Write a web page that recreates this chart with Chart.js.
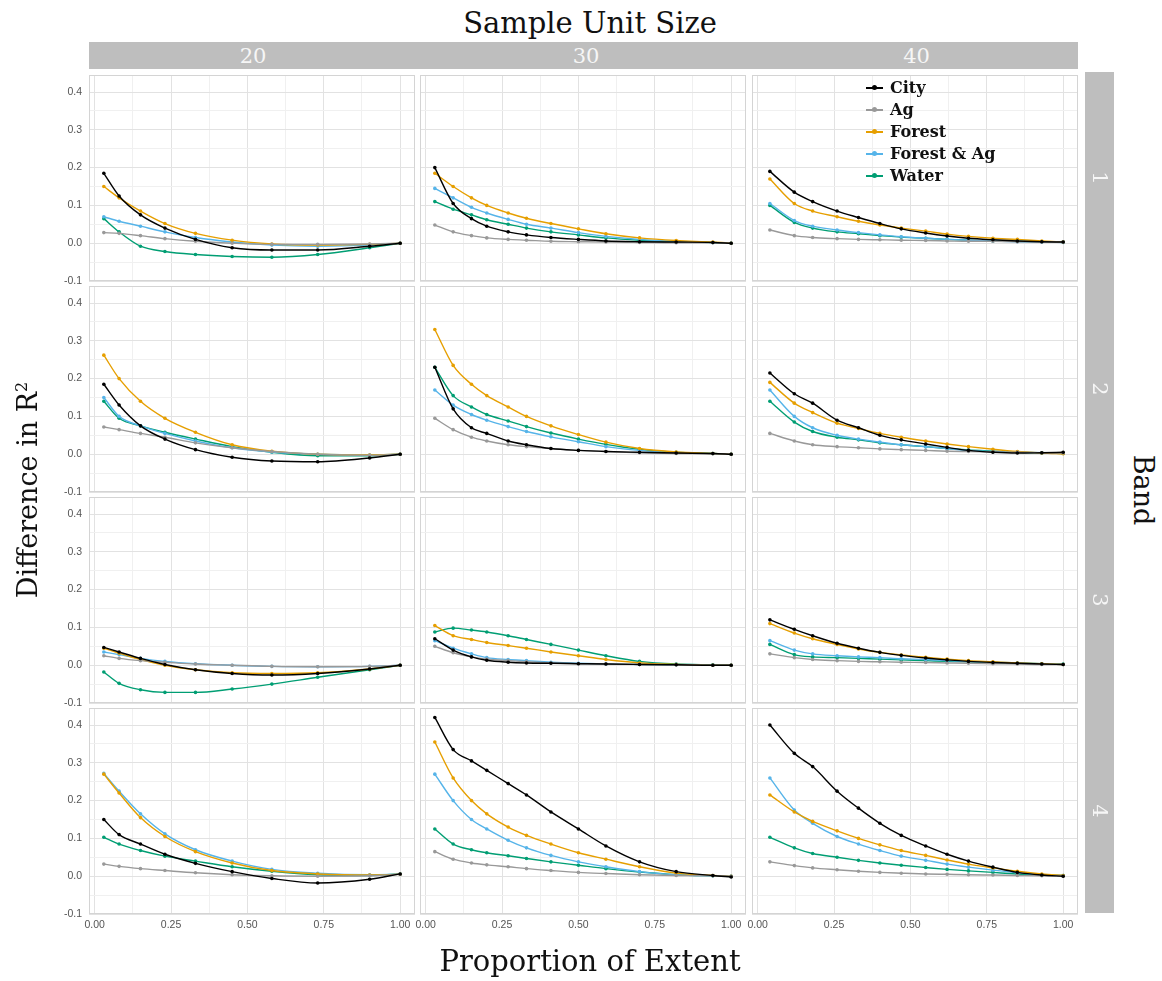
<!DOCTYPE html>
<html>
<head>
<meta charset="utf-8">
<script src="https://cdn.jsdelivr.net/npm/chart.js@4.4.0/dist/chart.umd.min.js"></script>
<style>
    body { margin: 0; background: #fff; width: 1162px; height: 981px; position: relative; overflow: hidden; font-family: "DejaVu Serif", serif; }
    .abs { position: absolute; }
    .strip { background: #bebebe; color: #f6f6f6; font-size: 21px; display: flex; align-items: center; justify-content: center; }
    .frame { border: 1px solid #d4d4d4; box-sizing: border-box; pointer-events: none; }
    .title { font-size: 27px; color: #111; white-space: nowrap; }
    .leg { font-weight: bold; font-size: 16px; color: #111; white-space: nowrap; line-height: 22px; }
</style>
</head>
<body>
<script>
// series and facets
const SERIES = ['City', 'Ag', 'Forest', 'Forest & Ag', 'Water'];
const COLORS = ['#000000', '#999999', '#E69F00', '#56B4E9', '#009E73'];
const SIZES = ['20', '30', '40'];
const BANDS = ['1', '2', '3', '4'];

// tick labels / grid
const X_TICKS = [0, 0.125, 0.25, 0.375, 0.5, 0.625, 0.75, 0.875, 1];
const Y_TICKS = [-0.1, -0.05, 0, 0.05, 0.1, 0.15, 0.2, 0.25, 0.3, 0.35, 0.4];

// proportion of extent, per sample unit size
const PROP_20 = [0.03, 0.08, 0.15, 0.23, 0.33, 0.45, 0.58, 0.73, 0.90, 1.00];
const PROP_30 = [0.03, 0.09, 0.15, 0.20, 0.27, 0.33, 0.41, 0.50, 0.59, 0.70, 0.82, 0.94, 1.00];
const PROP_40 = [0.04, 0.12, 0.18, 0.26, 0.33, 0.40, 0.47, 0.55, 0.62, 0.69, 0.77, 0.85, 0.93, 1.00];

// difference in R2, rows: City, Ag, Forest, Forest & Ag, Water
const B1_S20 = [
    [0.185, 0.125, 0.075, 0.040, 0.010, -0.012, -0.018, -0.018, -0.008, 0.000],
    [0.028, 0.026, 0.020, 0.012, 0.005, 0.000, -0.003, -0.003, -0.002, 0.000],
    [0.150, 0.120, 0.085, 0.052, 0.026, 0.008, -0.002, -0.005, -0.003, 0.000],
    [0.070, 0.058, 0.045, 0.030, 0.015, 0.003, -0.005, -0.008, -0.005, 0.000],
    [0.065, 0.030, -0.008, -0.022, -0.030, -0.035, -0.037, -0.030, -0.012, 0.000],
];
const B1_S30 = [
    [0.200, 0.105, 0.065, 0.045, 0.030, 0.022, 0.015, 0.010, 0.006, 0.004, 0.003, 0.002, 0.000],
    [0.048, 0.030, 0.020, 0.014, 0.010, 0.008, 0.005, 0.004, 0.003, 0.002, 0.001, 0.001, 0.000],
    [0.185, 0.150, 0.120, 0.100, 0.080, 0.066, 0.052, 0.038, 0.025, 0.014, 0.007, 0.003, 0.000],
    [0.145, 0.120, 0.095, 0.080, 0.063, 0.050, 0.040, 0.028, 0.018, 0.010, 0.005, 0.002, 0.000],
    [0.110, 0.090, 0.075, 0.062, 0.050, 0.040, 0.030, 0.022, 0.014, 0.008, 0.004, 0.002, 0.000],
];
const B1_S40 = [
    [0.190, 0.135, 0.110, 0.085, 0.068, 0.052, 0.038, 0.027, 0.019, 0.013, 0.009, 0.006, 0.004, 0.003],
    [0.035, 0.020, 0.015, 0.012, 0.010, 0.009, 0.008, 0.007, 0.006, 0.005, 0.005, 0.004, 0.003, 0.003],
    [0.170, 0.105, 0.085, 0.070, 0.058, 0.048, 0.040, 0.032, 0.024, 0.018, 0.013, 0.010, 0.006, 0.003],
    [0.105, 0.060, 0.045, 0.035, 0.028, 0.022, 0.017, 0.013, 0.010, 0.008, 0.006, 0.004, 0.003, 0.002],
    [0.100, 0.055, 0.040, 0.030, 0.025, 0.020, 0.016, 0.013, 0.010, 0.008, 0.006, 0.005, 0.004, 0.003],
];
const B2_S20 = [
    [0.185, 0.130, 0.075, 0.040, 0.012, -0.008, -0.018, -0.020, -0.010, 0.000],
    [0.072, 0.065, 0.055, 0.045, 0.030, 0.017, 0.007, 0.000, -0.003, 0.000],
    [0.262, 0.200, 0.140, 0.095, 0.058, 0.025, 0.008, 0.000, -0.002, 0.000],
    [0.150, 0.100, 0.075, 0.055, 0.035, 0.017, 0.006, 0.000, -0.002, 0.000],
    [0.140, 0.095, 0.075, 0.058, 0.040, 0.020, 0.005, -0.004, -0.004, 0.000],
];
const B2_S30 = [
    [0.230, 0.120, 0.070, 0.055, 0.035, 0.025, 0.015, 0.010, 0.007, 0.005, 0.003, 0.002, 0.000],
    [0.095, 0.065, 0.045, 0.035, 0.025, 0.020, 0.015, 0.010, 0.007, 0.004, 0.002, 0.001, 0.000],
    [0.330, 0.235, 0.185, 0.155, 0.125, 0.100, 0.075, 0.052, 0.032, 0.015, 0.006, 0.002, 0.000],
    [0.170, 0.130, 0.105, 0.090, 0.073, 0.060, 0.046, 0.033, 0.020, 0.010, 0.004, 0.002, 0.000],
    [0.230, 0.155, 0.125, 0.105, 0.088, 0.073, 0.056, 0.040, 0.026, 0.013, 0.005, 0.002, 0.000],
];
const B2_S40 = [
    [0.215, 0.160, 0.135, 0.090, 0.070, 0.050, 0.038, 0.027, 0.018, 0.010, 0.005, 0.003, 0.004, 0.005],
    [0.055, 0.035, 0.025, 0.020, 0.017, 0.014, 0.012, 0.010, 0.008, 0.007, 0.006, 0.005, 0.004, 0.003],
    [0.190, 0.135, 0.110, 0.082, 0.068, 0.055, 0.045, 0.035, 0.027, 0.020, 0.013, 0.007, 0.003, 0.001],
    [0.170, 0.100, 0.070, 0.050, 0.040, 0.032, 0.025, 0.020, 0.015, 0.010, 0.007, 0.005, 0.004, 0.003],
    [0.140, 0.085, 0.060, 0.045, 0.038, 0.030, 0.025, 0.020, 0.015, 0.011, 0.008, 0.005, 0.003, 0.002],
];
const B3_S20 = [
    [0.047, 0.035, 0.018, 0.002, -0.012, -0.022, -0.026, -0.022, -0.010, 0.000],
    [0.025, 0.018, 0.012, 0.008, 0.003, 0.000, -0.003, -0.004, -0.003, 0.000],
    [0.045, 0.032, 0.015, 0.000, -0.012, -0.020, -0.022, -0.020, -0.010, 0.000],
    [0.035, 0.028, 0.018, 0.010, 0.004, 0.000, -0.003, -0.004, -0.003, 0.000],
    [-0.018, -0.048, -0.065, -0.072, -0.072, -0.063, -0.050, -0.032, -0.012, 0.000],
];
const B3_S30 = [
    [0.070, 0.040, 0.022, 0.013, 0.008, 0.006, 0.005, 0.004, 0.003, 0.002, 0.001, 0.000, 0.000],
    [0.050, 0.033, 0.022, 0.016, 0.012, 0.009, 0.006, 0.004, 0.003, 0.002, 0.001, 0.000, 0.000],
    [0.105, 0.078, 0.068, 0.060, 0.052, 0.045, 0.035, 0.025, 0.015, 0.006, 0.002, 0.000, 0.000],
    [0.065, 0.045, 0.030, 0.020, 0.015, 0.012, 0.008, 0.005, 0.003, 0.002, 0.001, 0.000, 0.000],
    [0.088, 0.098, 0.093, 0.088, 0.078, 0.068, 0.055, 0.040, 0.025, 0.010, 0.003, 0.001, 0.000],
];
const B3_S40 = [
    [0.120, 0.095, 0.078, 0.058, 0.045, 0.034, 0.026, 0.019, 0.014, 0.010, 0.007, 0.005, 0.003, 0.002],
    [0.030, 0.020, 0.015, 0.012, 0.010, 0.009, 0.008, 0.007, 0.006, 0.005, 0.004, 0.003, 0.002, 0.002],
    [0.110, 0.085, 0.070, 0.055, 0.043, 0.034, 0.027, 0.021, 0.016, 0.012, 0.009, 0.006, 0.004, 0.002],
    [0.065, 0.040, 0.030, 0.025, 0.022, 0.020, 0.017, 0.015, 0.012, 0.010, 0.008, 0.006, 0.004, 0.002],
    [0.055, 0.028, 0.022, 0.020, 0.018, 0.016, 0.014, 0.012, 0.010, 0.009, 0.007, 0.005, 0.004, 0.003],
];
const B4_S20 = [
    [0.150, 0.110, 0.085, 0.058, 0.034, 0.012, -0.006, -0.018, -0.008, 0.006],
    [0.032, 0.026, 0.020, 0.015, 0.009, 0.004, 0.001, 0.000, 0.001, 0.005],
    [0.270, 0.220, 0.155, 0.105, 0.065, 0.035, 0.015, 0.006, 0.003, 0.005],
    [0.272, 0.225, 0.165, 0.112, 0.070, 0.040, 0.018, 0.008, 0.004, 0.005],
    [0.103, 0.085, 0.068, 0.053, 0.040, 0.025, 0.013, 0.004, 0.002, 0.006],
];
const B4_S30 = [
    [0.420, 0.335, 0.305, 0.280, 0.245, 0.215, 0.170, 0.125, 0.080, 0.038, 0.012, 0.002, -0.002],
    [0.065, 0.045, 0.035, 0.030, 0.025, 0.020, 0.015, 0.010, 0.007, 0.004, 0.002, 0.001, 0.000],
    [0.355, 0.260, 0.200, 0.165, 0.130, 0.108, 0.085, 0.062, 0.045, 0.025, 0.008, 0.002, 0.000],
    [0.270, 0.200, 0.150, 0.125, 0.095, 0.075, 0.055, 0.038, 0.025, 0.012, 0.004, 0.001, 0.000],
    [0.125, 0.085, 0.070, 0.062, 0.054, 0.047, 0.038, 0.029, 0.020, 0.011, 0.004, 0.001, 0.000],
];
const B4_S40 = [
    [0.400, 0.325, 0.290, 0.225, 0.180, 0.140, 0.108, 0.080, 0.058, 0.040, 0.024, 0.010, 0.003, 0.000],
    [0.038, 0.028, 0.022, 0.017, 0.013, 0.010, 0.008, 0.006, 0.005, 0.004, 0.003, 0.002, 0.001, 0.000],
    [0.215, 0.170, 0.145, 0.120, 0.100, 0.083, 0.068, 0.055, 0.043, 0.032, 0.022, 0.013, 0.006, 0.002],
    [0.260, 0.175, 0.140, 0.105, 0.085, 0.068, 0.053, 0.042, 0.032, 0.024, 0.016, 0.009, 0.004, 0.002],
    [0.103, 0.075, 0.060, 0.050, 0.042, 0.035, 0.029, 0.023, 0.018, 0.014, 0.010, 0.006, 0.003, 0.002],
];

const PROPS = [PROP_20, PROP_30, PROP_40];
const PANELS = [
    [B1_S20, B1_S30, B1_S40],
    [B2_S20, B2_S30, B2_S40],
    [B3_S20, B3_S30, B3_S40],
    [B4_S20, B4_S30, B4_S40],
];

// layout
const PANEL_X = [89, 420, 752];
const PANEL_Y = [75, 286, 497, 708];
const PANEL_W = 326;
const PANEL_H = 206;
const X_MIN = -0.0185, X_MAX = 1.0485;
const Y_MIN = -0.1, Y_MAX = 0.445;

function isStep(v, step) {
    const r = v / step;
    return Math.abs(r - Math.round(r)) < 1e-6;
}

function gridColor(ctx) {
    const v = ctx.tick ? ctx.tick.value : null;
    if (v === null) return 'transparent';
    const major = ctx.scale.axis === 'x' ? isStep(v, 0.25) : isStep(v, 0.1);
    const minor = ctx.scale.axis === 'x' ? isStep(v, 0.125) : isStep(v, 0.05);
    if (major) return '#e2e2e2';
    if (minor) return '#f0f0f0';
    return 'transparent';
}

function addDiv(cls, left, top, width, height, html, extra) {
    const d = document.createElement('div');
    d.className = 'abs ' + cls;
    d.style.cssText = `left:${left}px;top:${top}px;width:${width}px;height:${height}px;` + (extra || '');
    d.innerHTML = html;
    document.body.appendChild(d);
    return d;
}

function makePanel(row, col) {
    const m = 14;
    const axL = col === 0 ? 50 : 0;
    const axB = row === 3 ? 24 : 0;
    const w = PANEL_W + axL + 2 * m;
    const h = PANEL_H + axB + 2 * m;
    const cv = document.createElement('canvas');
    cv.width = w;
    cv.height = h;
    cv.style.cssText = `position:absolute;left:${PANEL_X[col] - axL - m}px;top:${PANEL_Y[row] - m}px;width:${w}px;height:${h}px`;
    document.body.appendChild(cv);

    const xs = PROPS[col];
    const vals = PANELS[row][col];
    const tickFont = { family: 'Liberation Sans', size: 10.5 };

    return new Chart(cv.getContext('2d'), {
        type: 'line',
        data: {
            datasets: SERIES.map((name, i) => ({
                label: name,
                data: xs.map((x, j) => ({ x: x, y: vals[i][j] })),
                borderColor: COLORS[i],
                backgroundColor: COLORS[i],
                borderWidth: 1.4,
                pointRadius: 1.8,
                pointBorderWidth: 0,
                cubicInterpolationMode: 'monotone',
                fill: false,
            })),
        },
        options: {
            responsive: false,
            animation: false,
            devicePixelRatio: 1,
            layout: { padding: m, autoPadding: false },
            plugins: {
                legend: { display: false },
                tooltip: { enabled: false },
            },
            scales: {
                x: {
                    type: 'linear',
                    min: X_MIN,
                    max: X_MAX,
                    border: { display: false },
                    grid: { drawTicks: false, color: gridColor, lineWidth: 1 },
                    ticks: {
                        display: row === 3,
                        autoSkip: false,
                        maxRotation: 0,
                        padding: 5,
                        color: '#555',
                        font: tickFont,
                        callback: (v) => isStep(v, 0.25) ? (Math.abs(v) < 1e-9 ? 0 : v).toFixed(2) : '',
                    },
                    afterBuildTicks: (s) => { s.ticks = X_TICKS.map(v => ({ value: v })); },
                    afterFit: (s) => { s.height = axB; s.paddingLeft = 0; s.paddingRight = 0; },
                },
                y: {
                    type: 'linear',
                    min: Y_MIN,
                    max: Y_MAX,
                    border: { display: false },
                    grid: { drawTicks: false, color: gridColor, lineWidth: 1 },
                    ticks: {
                        display: col === 0,
                        padding: 7,
                        color: '#555',
                        font: tickFont,
                        callback: (v) => isStep(v, 0.1) ? (Math.abs(v) < 1e-9 ? 0 : v).toFixed(1) : '',
                    },
                    afterBuildTicks: (s) => { s.ticks = Y_TICKS.map(v => ({ value: v })); },
                    afterFit: (s) => { s.width = axL; s.paddingTop = 0; s.paddingBottom = 0; },
                },
            },
        },
    });
}

// panels and frames
for (let r = 0; r < BANDS.length; r++) {
    for (let c = 0; c < SIZES.length; c++) {
        makePanel(r, c);
        addDiv('frame', PANEL_X[c], PANEL_Y[r], PANEL_W, PANEL_H, '');
    }
}

// strips
SIZES.forEach((s, c) => {
    const left = c === 0 ? PANEL_X[0] : PANEL_X[c] - 3;
    const right = c === SIZES.length - 1 ? PANEL_X[c] + PANEL_W : PANEL_X[c + 1] - 3;
    addDiv('strip', left, 42, right - left, 27, '<span style="position:relative;left:' + (c === 0 ? 0 : 3) + 'px">' + s + '</span>');
});
addDiv('strip', 1085, 72, 29, 841, '');
BANDS.forEach((b, r) => {
    addDiv('', 1085, PANEL_Y[r] + PANEL_H / 2 - 15, 29, 30,
        '<div style="transform:rotate(90deg);color:#f6f6f6;font-size:21px;text-align:center;line-height:30px">' + b + '</div>');
});

// titles
addDiv('title', 340, 6, 500, 36, 'Sample Unit Size', 'text-align:center;font-size:29px;');
addDiv('title', 340, 944, 500, 40, 'Proportion of Extent', 'text-align:center;font-size:29px;');
addDiv('title', -220, 472, 500, 36, 'Difference in R<sup style="font-size:16px">2</sup>', 'text-align:center;transform:rotate(-90deg);');
addDiv('title', 891, 472, 500, 36, 'Band', 'text-align:center;transform:rotate(90deg);');

// legend inside the band 1 / size 40 panel
SERIES.forEach((name, i) => {
    addDiv('leg', 866, 77 + 22 * i, 180, 22,
        '<span style="position:absolute;left:0;top:10px;width:17px;height:2px;background:' + COLORS[i] + '"></span>' +
        '<span style="position:absolute;left:6px;top:8px;width:5px;height:5px;border-radius:3px;background:' + COLORS[i] + '"></span>' +
        '<span style="position:absolute;left:24px;top:0">' + name + '</span>');
});
</script>
</body>
</html>
